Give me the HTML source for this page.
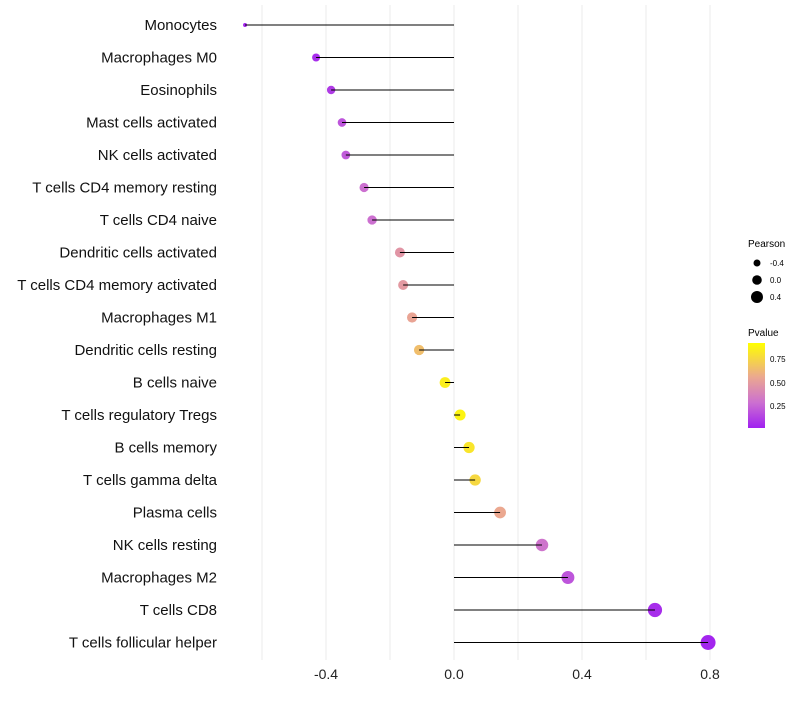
<!DOCTYPE html>
<html><head><meta charset="utf-8"><style>
body{margin:0;background:#fff;font-family:"Liberation Sans",sans-serif}
svg text{font-family:"Liberation Sans",sans-serif}
</style></head><body>
<svg id="c" width="800" height="700" xmlns="http://www.w3.org/2000/svg">
<defs><linearGradient id="pg" x1="0" y1="1" x2="0" y2="0">
<stop offset="0" stop-color="#a020f0"/><stop offset="0.3" stop-color="#cc70d0"/><stop offset="0.6" stop-color="#eba890"/><stop offset="1" stop-color="#ffff00"/></linearGradient></defs>
<g id="grid"></g><g id="marks"></g><g id="labels"></g>
<g>
<text x="748" y="247" font-size="10">Pearson</text>
<circle cx="757" cy="263" r="3.5" fill="#000"/><text x="770" y="266" font-size="8">-0.4</text>
<circle cx="757" cy="280" r="4.8" fill="#000"/><text x="770" y="283" font-size="8">0.0</text>
<circle cx="757" cy="297" r="6" fill="#000"/><text x="770" y="300" font-size="8">0.4</text>
<text x="748" y="336" font-size="10">Pvalue</text>
<rect x="748" y="343" width="17" height="85" fill="url(#pg)"/>
<text x="770" y="362" font-size="8">0.75</text><text x="770" y="386" font-size="8">0.50</text><text x="770" y="409" font-size="8">0.25</text>
</g>
</svg>
<script>
const cats=["Monocytes","Macrophages M0","Eosinophils","Mast cells activated","NK cells activated","T cells CD4 memory resting","T cells CD4 naive","Dendritic cells activated","T cells CD4 memory activated","Macrophages M1","Dendritic cells resting","B cells naive","T cells regulatory  Tregs ","B cells memory","T cells gamma delta","Plasma cells","NK cells resting","Macrophages M2","T cells CD8","T cells follicular helper"];
const pearson=[-0.653,-0.431,-0.384,-0.35,-0.338,-0.281,-0.256,-0.169,-0.159,-0.131,-0.109,-0.028,0.019,0.047,0.066,0.144,0.275,0.356,0.628,0.794];
const pvals=[0.02,0.05,0.1,0.2,0.22,0.3,0.3,0.5,0.52,0.58,0.7,0.92,0.95,0.88,0.82,0.6,0.32,0.2,0.05,0.02];
const ticks=[-0.4,0.0,0.4,0.8];
const grids=[-0.6,-0.4,-0.2,0,0.2,0.4,0.6,0.8];
const NS="http://www.w3.org/2000/svg";
const x=v=>454+v*320, y=i=>25+i*32.5;
const r=v=>{const a=v<-0.5?4+(v+0.65)*20:30.1+32.7*v;return Math.sqrt(Math.max(3,a));};
function col(p){const st=[[0,[160,32,240]],[0.3,[204,112,208]],[0.6,[235,168,144]],[1,[255,255,0]]];
for(let k=1;k<st.length;k++){if(p<=st[k][0]){const a=st[k-1],b=st[k],t=(p-a[0])/(b[0]-a[0]);return"rgb("+a[1].map((c,j)=>Math.round(c+(b[1][j]-c)*t)).join(",")+")";}}return"rgb(255,255,0)";}
function mk(t,a,p){const e=document.createElementNS(NS,t);for(const k in a)e.setAttribute(k,a[k]);p.appendChild(e);return e;}
const G=document.getElementById("grid"),M=document.getElementById("marks"),L=document.getElementById("labels");
grids.forEach(g=>{const e=mk("line",{x1:x(g),x2:x(g),y1:5,y2:660,stroke:"#ebebeb","stroke-width":1},G);

});
ticks.forEach(t=>{const e=mk("text",{x:x(t),y:679,"font-size":14,"text-anchor":"middle",fill:"#222"},L);e.textContent=t.toFixed(1);

});
cats.forEach((c,i)=>{const e=mk("text",{x:217,y:y(i)+5,"font-size":15,"text-anchor":"end",fill:"#111","xml:space":"preserve"},L);e.textContent=c;


const d=mk("circle",{cx:x(pearson[i]),cy:y(i),r:r(pearson[i]),fill:col(pvals[i])},M);


const s=mk("line",{x1:x(0),x2:x(pearson[i]),y1:y(i),y2:y(i),stroke:"#000","stroke-width":1},M);

});
</script>
</body></html>
